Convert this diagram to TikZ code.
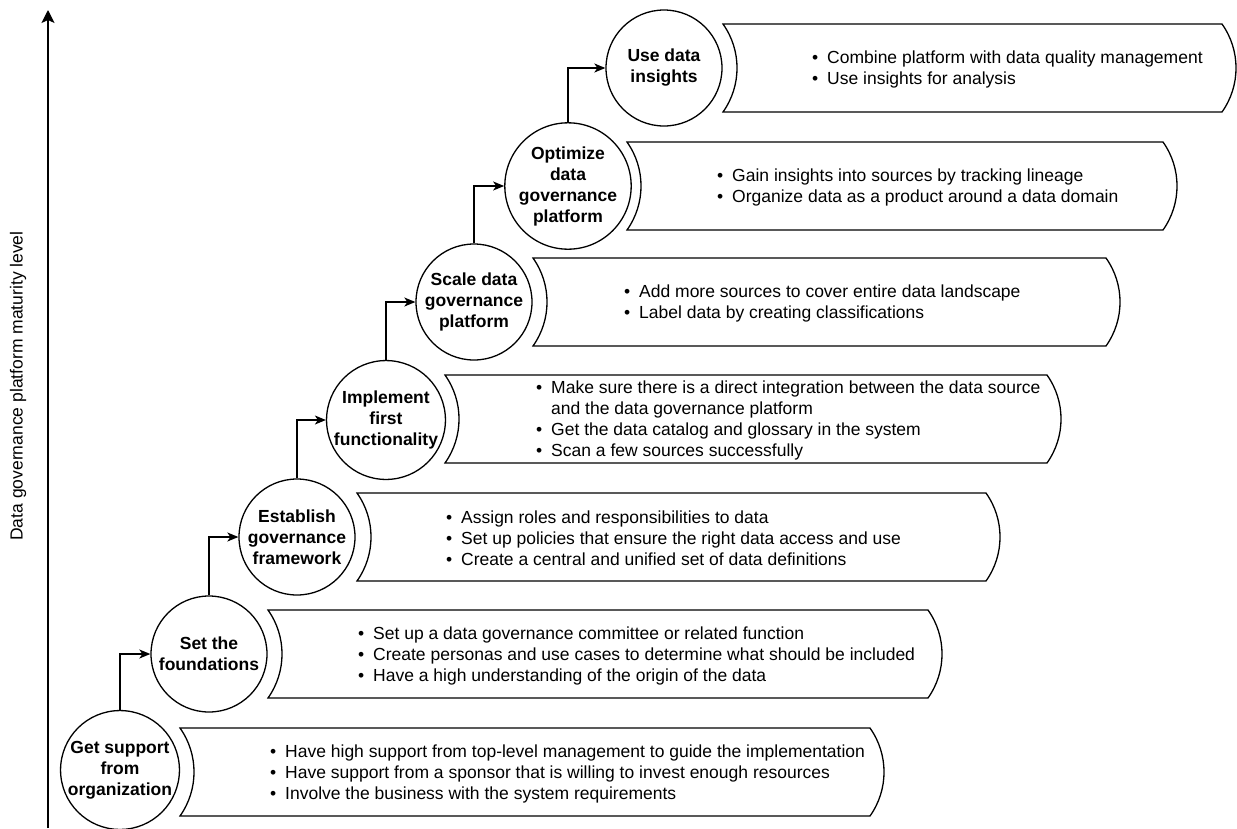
\documentclass[tikz,border=0pt]{standalone}
\usepackage{fontspec}
\setmainfont{Liberation Sans}
\usetikzlibrary{arrows.meta}

% bullet marker and hanging indent for the banner lists
\newcommand\bitem{\makebox[15pt][l]{•}}
\newcommand\bcont{\hspace*{15pt}}

% banner with a concave left side and a convex right side
% #1 left x, #2 right x, #3 centre y
\newcommand\drawbanner[3]{%
  \draw[bannerline] (#1,#3-44) -- (#2,#3-44)
    .. controls (#2+18.7,#3-17.6) and (#2+18.7,#3+17.6) .. (#2,#3+44)
    -- (#1,#3+44)
    .. controls (#1+18.7,#3+17.6) and (#1+18.7,#3-17.6) .. (#1,#3-44) -- cycle;}

\begin{document}
\begin{tikzpicture}[x=1pt,y=-1pt,
  stagecircle/.style={circle, draw, line width=1.3pt, minimum size=116pt,
    inner sep=0pt, align=center, font=\fontsize{17.5}{21}\selectfont\bfseries},
  bannerline/.style={line width=1.3pt, line join=miter},
  bullets/.style={anchor=west, inner sep=0pt, align=left, yshift=-1.5pt,
    font=\fontsize{17.5}{21}\selectfont},
  stepconn/.style={line width=1.3pt, -{Stealth[length=11pt, width=9pt, inset=3pt]}},
  axisline/.style={line width=1.3pt, -{Stealth[length=13pt, width=13pt, inset=3pt]}}
]
\useasboundingbox (0,0) rectangle (1237,828);
\fill[white] (0,0) rectangle (1237,828);

% maturity axis
\coordinate (axbot) at (48,828);
\coordinate (axtop) at (48,10);
\draw[axisline] (axbot) -- (axtop);
\node[rotate=90, font=\fontsize{17.5}{21}\selectfont] (axlabel) at (18,386)
  {Data governance platform maturity level};

% banners
\drawbanner{180}{870}{772}
\drawbanner{268}{928}{654}
\drawbanner{357}{986}{537}
\drawbanner{445}{1047}{419}
\drawbanner{533}{1106}{302}
\drawbanner{627}{1163}{186}
\drawbanner{723}{1222}{68}

% stages
\node[stagecircle] (c1) at (120,770) {Get support\\from\\organization};
\node[stagecircle] (c2) at (209,654) {Set the\\foundations};
\node[stagecircle] (c3) at (297,537) {Establish\\governance\\framework};
\node[stagecircle] (c4) at (386,420) {Implement\\first\\functionality};
\node[stagecircle] (c5) at (474,302) {Scale data\\governance\\platform};
\node[stagecircle] (c6) at (568,186) {Optimize\\data\\governance\\platform};
\node[stagecircle] (c7) at (664,68) {Use data\\insights};

% step connectors
\draw[stepconn] (c1.north) |- (c2.west);
\draw[stepconn] (c2.north) |- (c3.west);
\draw[stepconn] (c3.north) |- (c4.west);
\draw[stepconn] (c4.north) |- (c5.west);
\draw[stepconn] (c5.north) |- (c6.west);
\draw[stepconn] (c6.north) |- (c7.west);

% banner texts
\node[bullets] (t1) at (270,772) {%
  \bitem Have high support from top-level management to guide the implementation\\
  \bitem Have support from a sponsor that is willing to invest enough resources\\
  \bitem Involve the business with the system requirements};
\node[bullets] (t2) at (358,654) {%
  \bitem Set up a data governance committee or related function\\
  \bitem Create personas and use cases to determine what should be included\\
  \bitem Have a high understanding of the origin of the data};
\node[bullets] (t3) at (446,537) {%
  \bitem Assign roles and responsibilities to data\\
  \bitem Set up policies that ensure the right data access and use\\
  \bitem Create a central and unified set of data definitions};
\node[bullets] (t4) at (536,419) {%
  \bitem Make sure there is a direct integration between the data source\\
  \bcont and the data governance platform\\
  \bitem Get the data catalog and glossary in the system\\
  \bitem Scan a few sources successfully};
\node[bullets] (t5) at (624,302) {%
  \bitem Add more sources to cover entire data landscape\\
  \bitem Label data by creating classifications};
\node[bullets] (t6) at (717,186) {%
  \bitem Gain insights into sources by tracking lineage\\
  \bitem Organize data as a product around a data domain};
\node[bullets] (t7) at (812,68) {%
  \bitem Combine platform with data quality management\\
  \bitem Use insights for analysis};
\end{tikzpicture}
\end{document}
